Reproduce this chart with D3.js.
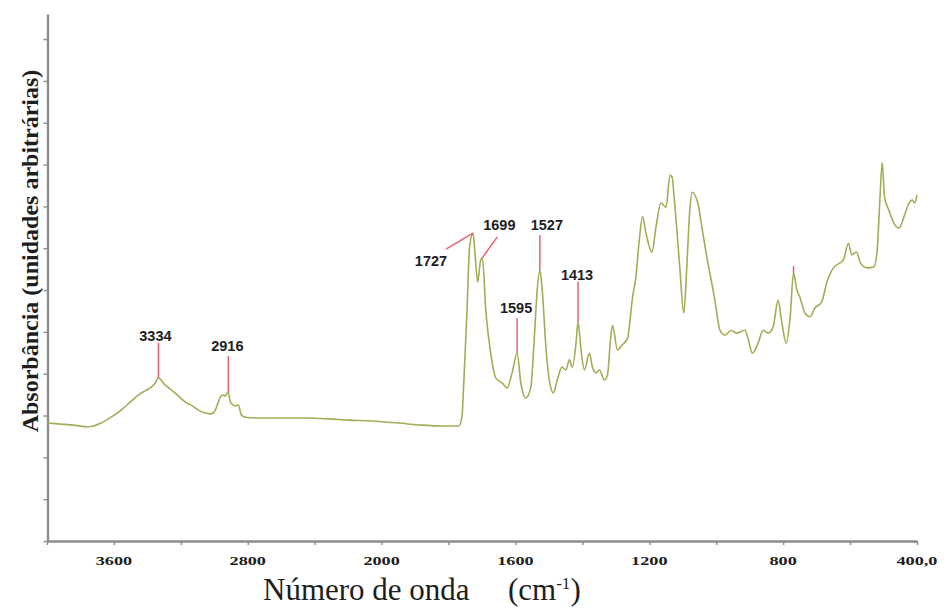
<!DOCTYPE html>
<html>
<head>
<meta charset="utf-8">
<script src="https://cdn.jsdelivr.net/npm/d3@7"></script>
<style>
  html, body { margin: 0; padding: 0; background: #FFFFFF; }
  svg { display: block; }
</style>
</head>
<body>
<svg></svg>
<script>
//--Data
//wavenumber (cm-1) and absorbance (arbitrary units)
const wavenumber = [
  4000, 3934, 3844, 3754, 3676, 3617, 3557, 3503, 3455, 3413, 3377, 3353, 3334, 3299, 3257, 3215,
  3173, 3131, 3095, 3053, 3018, 2994, 2976, 2964, 2946, 2934, 2916, 2904, 2886, 2874, 2856, 2838,
  2814, 2736, 2616, 2454, 2317, 2197, 2059, 1948, 1880, 1814, 1769, 1760, 1754, 1745, 1737, 1727,
  1721, 1713, 1704, 1699, 1688, 1674, 1659, 1640, 1625, 1610, 1595, 1584, 1569, 1554, 1544, 1535,
  1527, 1520, 1509, 1499, 1487, 1475, 1461, 1449, 1439, 1430, 1419, 1413, 1404, 1394, 1379, 1370,
  1359, 1349, 1334, 1325, 1316, 1310, 1295, 1281, 1265, 1250, 1240, 1230, 1220, 1210, 1192, 1180,
  1165, 1150, 1138, 1132, 1125, 1109, 1097, 1088, 1079, 1072, 1055, 1040, 1025, 1018, 1004, 989,
  974, 955, 940, 914, 904, 892, 875, 860, 845, 830, 815, 805, 791, 779, 769, 759,
  750, 735, 720, 705, 685, 670, 650, 630, 620, 605, 595, 581, 569, 549, 529, 519,
  511, 504, 497, 484, 469, 454, 439, 424, 414, 407, 400
];
const absorbance = [
  2.82, 2.80, 2.77, 2.73, 2.82, 2.96, 3.13, 3.32, 3.49, 3.59, 3.68, 3.78, 3.90, 3.75, 3.61, 3.47,
  3.32, 3.23, 3.13, 3.06, 3.04, 3.13, 3.32, 3.44, 3.49, 3.47, 3.56, 3.32, 3.25, 3.23, 3.25, 3.01,
  2.96, 2.94, 2.94, 2.94, 2.92, 2.89, 2.87, 2.82, 2.77, 2.75, 2.75, 2.96, 3.85, 5.45, 7.03, 7.36,
  6.89, 6.19, 6.72, 6.77, 5.45, 4.49, 3.90, 3.78, 3.66, 4.02, 4.49, 3.78, 3.42, 3.68, 4.81, 6.00,
  6.48, 6.00, 4.64, 3.85, 3.54, 3.85, 4.16, 4.09, 4.33, 4.16, 4.73, 5.24, 4.57, 4.09, 4.49, 4.16,
  4.02, 4.09, 3.85, 3.97, 4.81, 5.16, 4.57, 4.69, 4.85, 5.83, 6.31, 7.20, 7.75, 7.36, 6.91, 7.51,
  8.08, 7.98, 8.75, 8.70, 8.15, 6.55, 5.45, 6.55, 7.91, 8.34, 8.08, 7.36, 6.65, 6.36, 5.76, 5.04,
  4.92, 5.04, 4.97, 5.04, 4.81, 4.49, 4.73, 5.04, 4.97, 5.12, 5.76, 5.28, 4.73, 5.36, 6.41, 6.00,
  5.83, 5.45, 5.36, 5.57, 5.71, 6.17, 6.53, 6.65, 6.72, 7.12, 6.84, 6.91, 6.65, 6.53, 6.55, 6.96,
  8.15, 9.04, 8.22, 7.91, 7.60, 7.48, 7.75, 8.08, 8.15, 8.08, 8.27
];

//Labelled peaks
const peakLabels = [3334, 2916, 1727, 1699, 1595, 1527, 1413];
//Unlabelled red mark
const peakMarks = [769];

//Axis ticks
const xTicks = [4000, 3600, 3200, 2800, 2400, 2000, 1800, 1600, 1400, 1200, 1000, 800, 600, 400];
const xTickLabels = [3600, 2800, 2000, 1600, 1200, 800, 400];
const yTicks = d3.range(0, 13);

//--Canvas
const canvas = {
  width: 948,
  height: 616,
  lineColor: "#a6ab55",
  markColor: "#e8626c",
  axisColor: "#8c8c8c",
  textColor: "#1e1e1e"
};

//Piecewise scale: 4000-2000 is compressed by half
const x = d3.scaleLinear().domain([4000, 2000, 400]).range([47, 381.6, 917]);
const y = d3.scaleLinear().domain([0, 12.6]).range([541, 14]);

const root = d3.select("svg")
  .attr("width", canvas.width)
  .attr("height", canvas.height)
  .style("background-color", "#FFFFFF");

//--Axes
const xAxis = root.append("g")
  .attr("transform", "translate(0," + y(0) + ")")
  .call(d3.axisBottom(x).tickValues(xTicks).tickSize(4).tickSizeOuter(0).tickFormat(""));
const yAxis = root.append("g")
  .attr("transform", "translate(" + 47.5 + ",0)")
  .call(d3.axisLeft(y).tickValues(yTicks).tickSize(4).tickSizeOuter(0).tickFormat(""));
[xAxis, yAxis].forEach(g => {
  g.select(".domain").attr("stroke", canvas.axisColor).attr("stroke-width", 2.4);
  g.selectAll(".tick line").attr("stroke", canvas.axisColor).attr("stroke-width", 1.4);
});

//Tick labels (bold, stretched wide like the scan)
root.append("g")
  .selectAll("text")
  .data(xTickLabels)
  .join("text")
  .attr("x", d => x(d))
  .attr("y", 565)
  .attr("text-anchor", "middle")
  .style("font-family", "'Liberation Serif', 'Times New Roman', serif")
  .style("font-weight", "bold")
  .style("font-size", "13px")
  .attr("fill", canvas.textColor)
  .text(d => d === 400 ? "400,0" : d)
  .each(function() {
    const w = this.getComputedTextLength();
    d3.select(this).attr("textLength", w * 1.4).attr("lengthAdjust", "spacingAndGlyphs");
  });

//--Axis titles
const xTitle = root.append("text")
  .attr("y", 600)
  .style("font-family", "'Liberation Serif', 'Times New Roman', serif")
  .style("font-size", "31px")
  .attr("fill", canvas.textColor);
xTitle.append("tspan").attr("x", 263).text("Número de onda");
xTitle.append("tspan").attr("x", 508).text("(cm");
xTitle.append("tspan").attr("dy", -11).style("font-size", "17px").text("-1");
xTitle.append("tspan").attr("dy", 11).text(")");

root.append("text")
  .attr("transform", "translate(38,251)rotate(-90)")
  .attr("text-anchor", "middle")
  .style("font-family", "'Liberation Serif', 'Times New Roman', serif")
  .style("font-weight", "bold")
  .style("font-size", "24px")
  .attr("fill", canvas.textColor)
  .text("Absorbância (unidades arbitrárias)");

//--Spectrum
const spectrum = wavenumber.map((w, i) => [w, absorbance[i]]);
root.append("path")
  .datum(spectrum)
  .attr("fill", "none")
  .attr("stroke", canvas.lineColor)
  .attr("stroke-width", 1.6)
  .attr("stroke-linejoin", "round")
  .attr("d", d3.line().x(d => x(d[0])).y(d => y(d[1])).curve(d3.curveMonotoneX));

//--Peak annotations
//line: [dx, dy] from peak to the far end of the red line; text: [dx, dy] of the label baseline
const leader = {
  3334: { line: [0, -35], text: [-3, -37] },
  2916: { line: [0, -36], text: [-1, -41] },
  1727: { line: [-27, 16], text: [-42, 33] },
  1699: { line: [15, -21], text: [17, -28] },
  1595: { line: [0, -35], text: [-1, -40] },
  1527: { line: [0, -35], text: [7, -40] },
  1413: { line: [0, -40], text: [-1, -42] }
};
const peakY = w => absorbance[wavenumber.indexOf(w)];

const notes = root.append("g").classed("peaks", true);
notes.selectAll("line")
  .data(peakLabels)
  .join("line")
  .attr("x1", d => x(d))
  .attr("y1", d => y(peakY(d)))
  .attr("x2", d => x(d) + leader[d].line[0])
  .attr("y2", d => y(peakY(d)) + leader[d].line[1])
  .attr("stroke", canvas.markColor)
  .attr("stroke-width", 1.5);
notes.selectAll("text")
  .data(peakLabels)
  .join("text")
  .attr("x", d => x(d) + leader[d].text[0])
  .attr("y", d => y(peakY(d)) + leader[d].text[1])
  .attr("text-anchor", "middle")
  .style("font-family", "'Liberation Sans', Arial, sans-serif")
  .style("font-weight", "bold")
  .style("font-size", "14.5px")
  .attr("fill", canvas.textColor)
  .text(d => d);

notes.selectAll("line.mark")
  .data(peakMarks)
  .join("line")
  .classed("mark", true)
  .attr("x1", d => x(d))
  .attr("y1", d => y(peakY(d)))
  .attr("x2", d => x(d))
  .attr("y2", d => y(peakY(d)) - 7)
  .attr("stroke", canvas.markColor)
  .attr("stroke-width", 1.5);
</script>
</body>
</html>
